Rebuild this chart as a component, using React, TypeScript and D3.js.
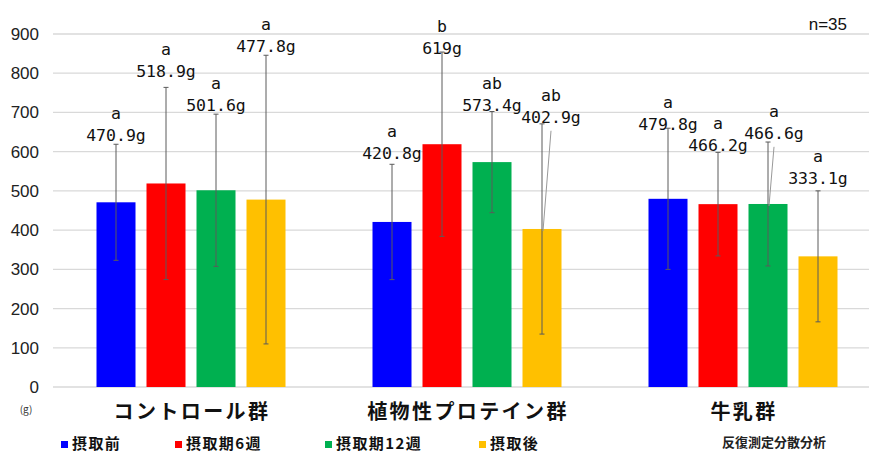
import React, { useEffect } from 'react';
import * as d3 from 'd3';

// categories and series
const groups = ['コントロール群', '植物性プロテイン群', '牛乳群'];
const seriesNames = ['摂取前', '摂取期6週', '摂取期12週', '摂取後'];
const seriesColors = ['#0000ff', '#ff0000', '#00b050', '#ffc000'];

// means (g) per series, one value per group
const meanBefore = [470.9, 420.8, 479.8];
const mean6w = [518.9, 619, 466.2];
const mean12w = [501.6, 573.4, 466.6];
const meanAfter = [477.8, 402.9, 333.1];

// standard deviations
const sdBefore = [148, 147, 180];
const sd6w = [245, 235, 132];
const sd12w = [194, 129, 158];
const sdAfter = [368, 268, 167];

// significance letters
const sigBefore = ['a', 'a', 'a'];
const sig6w = ['a', 'b', 'a'];
const sig12w = ['a', 'ab', 'a'];
const sigAfter = ['a', 'ab', 'a'];

// where the data labels sit (in y value units, as placed in the source)
const labelPosBefore = [643, 597, 671];
const labelPos6w = [806, 865, 617];
const labelPos12w = [719, 719, 648];
const labelPosAfter = [870, 689, 533];

const yTicks = [0, 100, 200, 300, 400, 500, 600, 700, 800, 900];

const W = 869;
const H = 452;
const margin = { left: 53, top: 34, bottom: 65 };

// labels that were dragged sideways in the source (px)
const labelShift: Record<string, number> = { '1-3': 9, '2-2': 6 };
const legendX = [61, 175, 325, 479];

const App = () => {
  useEffect(() => {
    document.body.style.margin = '0';
  }, []);

  const means = [meanBefore, mean6w, mean12w, meanAfter];
  const sds = [sdBefore, sd6w, sd12w, sdAfter];
  const sigs = [sigBefore, sig6w, sig12w, sigAfter];
  const labelPos = [labelPosBefore, labelPos6w, labelPos12w, labelPosAfter];

  const x0 = d3.scaleBand<string>().domain(groups).range([margin.left, margin.left + 828]).padding(0);
  const x1 = d3.scaleBand<string>()
    .domain(seriesNames)
    .range([0, x0.bandwidth()])
    .paddingInner(0.22)
    .paddingOuter(0.87);
  const y = d3.scaleLinear().domain([0, 900]).range([H - margin.bottom, margin.top]);

  const bars = groups.flatMap((g, gi) =>
    seriesNames.map((s, si) => {
      const cx = (x0(g) as number) + (x1(s) as number) + x1.bandwidth() / 2;
      return {
        key: `${gi}-${si}`,
        x: (x0(g) as number) + (x1(s) as number),
        cx,
        mean: means[si][gi],
        sd: sds[si][gi],
        sig: sigs[si][gi],
        lpos: labelPos[si][gi],
        color: seriesColors[si],
      };
    })
  );

  const valueFont = '"DejaVu Sans Mono", monospace';
  const jpFont = '"Noto Sans CJK JP", sans-serif';

  return (
    <svg width={W} height={H} style={{ display: 'block', background: '#fff' }}>
      {/* grid */}
      {yTicks.map((t) => (
        <line key={t} x1={margin.left} x2={margin.left + 828} y1={y(t)} y2={y(t)} stroke="#d9d9d9" strokeWidth={1.3} />
      ))}
      {yTicks.map((t) => (
        <text key={'t' + t} x={39} y={y(t)} dy="0.35em" textAnchor="end" fontFamily='"Liberation Sans", Arial, sans-serif' fontSize={17} fill="#222">
          {t}
        </text>
      ))}
      <text x={26} y={409} dy="0.35em" textAnchor="middle" fontFamily={jpFont} fontSize={10} fill="#333">(g)</text>

      {/* bars */}
      {bars.map((b) => (
        <rect key={'b' + b.key} x={b.x} y={y(b.mean)} width={x1.bandwidth()} height={y(0) - y(b.mean)} fill={b.color} />
      ))}

      {/* error bars */}
      {bars.map((b) => {
        const top = y(b.mean + b.sd);
        const bot = y(Math.max(0, b.mean - b.sd));
        return (
          <g key={'e' + b.key} stroke="#5a5a5a" strokeWidth={1}>
            <line x1={b.cx} x2={b.cx} y1={top} y2={bot} />
            <line x1={b.cx - 2.5} x2={b.cx + 2.5} y1={top} y2={top} />
            <line x1={b.cx - 2.5} x2={b.cx + 2.5} y1={bot} y2={bot} />
          </g>
        );
      })}

      {/* leader lines for the shifted labels */}
      {bars.filter((b) => labelShift[b.key]).map((b) => (
        <line key={'l' + b.key} x1={b.cx + labelShift[b.key]} y1={y(b.lpos) + 14} x2={b.cx + 1} y2={y(b.mean) + 2} stroke="#999" strokeWidth={1} />
      ))}

      {/* value labels */}
      {bars.map((b) => {
        const lx = b.cx + (labelShift[b.key] || 0);
        const ly = y(b.lpos);
        return (
          <g key={'v' + b.key} fontFamily={valueFont} fontSize={16.5} fill="#111" textAnchor="middle">
            <text x={lx} y={ly - 22} dy="0.35em">{b.sig}</text>
            <text x={lx} y={ly} dy="0.35em">{`${b.mean}g`}</text>
          </g>
        );
      })}

      {/* category labels */}
      {groups.map((g) => (
        <text key={g} x={(x0(g) as number) + x0.bandwidth() / 2 + 1} y={412} dy="0.35em" textAnchor="middle" fontFamily={jpFont} fontWeight="bold" fontSize={20} letterSpacing={2.4} fill="#111">
          {g}
        </text>
      ))}

      <text x={847} y={24} dy="0.35em" textAnchor="end" fontFamily='"Liberation Sans", Arial, sans-serif' fontSize={17} fill="#111">n=35</text>

      {/* legend */}
      {seriesNames.map((s, i) => (
        <g key={'lg' + s}>
          <rect x={legendX[i]} y={441} width={7} height={7} fill={seriesColors[i]} />
          <text x={legendX[i] + 11} y={444} dy="0.35em" fontFamily={jpFont} fontWeight="bold" fontSize={15} letterSpacing={1.4} fill="#111">{s}</text>
        </g>
      ))}
      <text x={722} y={442} dy="0.35em" fontFamily={jpFont} fontWeight="bold" fontSize={13} fill="#222">反復測定分散分析</text>
    </svg>
  );
};

export default App;
